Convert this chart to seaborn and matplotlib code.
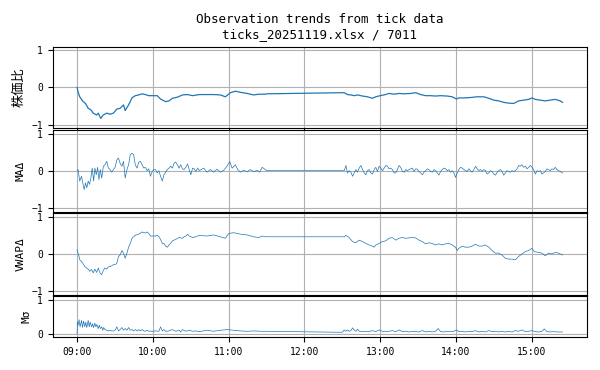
import pandas as pd
import matplotlib
matplotlib.use('Agg')
import matplotlib.pyplot as plt
import matplotlib.dates as mdates
import seaborn as sns

# minutes after 09:00
price_min = [0, 0.8, 2.1, 4.8, 6.7, 8.8, 10.9, 12.8, 15.5, 16.8,
             18.7, 20.8, 23.5, 26.1, 28.8, 31.5, 34.1, 36.8, 38.1, 40.8,
             43.5, 46.1, 48.8, 51.5, 54.1, 56.8, 60, 63.5, 66.1, 70.1,
             72.8, 75.5, 79.5, 83.5, 87.5, 91.5, 96.8, 102.9, 108.2, 113.5,
             117.5, 121.4, 125.4, 129.4, 134.7, 139.9, 143.9, 149.2, 150,
             210, 211.6, 214.2, 216.8, 219.5, 222.1, 226.1, 230, 233.9, 236.6,
             240, 243.2, 247.1, 251.1, 255, 258.9, 264.2, 268.2, 272.1, 276.1,
             280, 283.9, 287.9, 293.2, 297.1, 300.5, 302.4, 306.3, 311.6, 316.8,
             322.1, 326.1, 330, 333.9, 337.9, 341.8, 345.8, 349.7, 353.7, 357.6,
             360.3, 362.9, 366.8, 370.8, 374.7, 378.7, 382.6, 384.5]
price_val = [0, -0.12, -0.25, -0.38, -0.43, -0.56, -0.60, -0.69, -0.74, -0.69,
             -0.83, -0.74, -0.69, -0.72, -0.69, -0.58, -0.56, -0.47, -0.62, -0.47,
             -0.28, -0.22, -0.20, -0.17, -0.19, -0.22, -0.22, -0.22, -0.31, -0.38,
             -0.36, -0.29, -0.26, -0.20, -0.19, -0.22, -0.19, -0.19, -0.19, -0.20,
             -0.25, -0.14, -0.10, -0.13, -0.16, -0.20, -0.18, -0.18, -0.17,
             -0.14, -0.14, -0.19, -0.20, -0.22, -0.20, -0.23, -0.25, -0.29, -0.25,
             -0.22, -0.20, -0.16, -0.18, -0.16, -0.17, -0.16, -0.14, -0.19, -0.22,
             -0.22, -0.23, -0.22, -0.23, -0.25, -0.31, -0.28, -0.28, -0.27, -0.25,
             -0.25, -0.29, -0.34, -0.36, -0.40, -0.42, -0.43, -0.36, -0.34, -0.32,
             -0.28, -0.32, -0.34, -0.36, -0.34, -0.32, -0.36, -0.40]

ma_min = [0.0, 0.8, 2.1, 3.5, 4.8, 5.6, 6.7, 7.7, 8.8, 9.9,
          10.9, 12.0, 13.1, 14.1, 15.2, 16.3, 17.3, 18.4, 19.5, 20.8,
          22.1, 23.5, 24.8, 26.1, 27.5, 28.8, 30.1, 31.5, 32.8, 34.1,
          35.5, 36.8, 38.1, 39.5, 40.8, 42.1, 43.5, 44.8, 46.1, 47.5,
          48.8, 50.1, 51.5, 52.8, 54.1, 55.5, 56.8, 58.1, 59.5, 60.8,
          62.1, 63.5, 64.8, 66.1, 67.5, 68.8, 70.1, 71.5, 72.8, 74.1,
          75.5, 76.8, 78.1, 79.5, 80.8, 82.1, 83.5, 84.8, 86.1, 87.5,
          88.8, 90.1, 91.5, 92.8, 94.1, 95.5, 96.8, 100.3, 102.9, 105.6,
          108.2, 110.8, 113.5, 116.1, 118.8, 120.9, 122.8, 125.4, 127.2, 129.4,
          132.0, 134.7, 137.3, 139.9, 142.6, 144.7, 146.6, 149.2, 150,
          210.0, 211.6, 212.9, 214.2, 215.5, 216.9, 218.2, 219.5, 220.8, 222.1,
          223.4, 224.8, 226.1, 227.4, 228.7, 230.0, 231.3, 232.7, 234.0, 235.3,
          236.6, 237.9, 239.2, 240.6, 241.9, 243.2, 244.5, 245.8, 247.1, 248.4,
          249.8, 251.1, 252.4, 253.7, 255.0, 256.3, 257.7, 259.0, 260.3, 261.6,
          262.9, 264.2, 265.6, 266.9, 268.2, 269.5, 270.8, 272.1, 273.5, 274.8,
          276.1, 277.4, 278.7, 280.0, 281.4, 282.7, 284.0, 285.3, 286.6, 287.9,
          289.2, 290.6, 291.9, 293.2, 294.5, 295.8, 297.1, 298.5, 299.8, 301.1,
          302.4, 303.7, 305.0, 306.4, 307.7, 309.0, 310.3, 311.6, 312.9, 314.3,
          315.6, 316.9, 318.2, 319.5, 320.8, 322.2, 323.5, 324.8, 326.1, 327.4,
          328.7, 330.0, 331.4, 332.7, 334.0, 335.3, 336.6, 337.9, 339.3, 340.6,
          341.9, 343.2, 344.5, 345.8, 347.2, 348.5, 349.8, 351.1, 352.4, 353.7,
          355.1, 356.4, 357.7, 359.0, 360.3, 361.6, 363.0, 364.3, 365.6, 366.9,
          368.2, 369.5, 370.8, 372.2, 373.5, 374.8, 376.1, 377.4, 378.7, 380.1,
          381.4, 382.7, 384.5]
ma_val = [0, 0.03, -0.28, -0.15, -0.37, -0.51, -0.33, -0.46, -0.28, -0.37,
          -0.20, 0.07, -0.28, 0.07, -0.11, 0.09, -0.24, 0.03, -0.20, 0.12,
          0.16, 0.25, 0.07, 0.03, -0.04, 0.03, 0.09, 0.29, 0.34, 0.20,
          0.12, 0.25, -0.20, 0.03, 0.16, 0.43, 0.47, 0.43, 0.16, 0.07,
          0.23, 0.25, 0.16, 0.07, 0.09, 0, 0.05, -0.15, -0.02, 0.03,
          0.03, -0.06, 0, -0.15, -0.28, -0.11, -0.04, 0.03, 0.07, 0.12,
          0.07, 0.20, 0.23, 0.16, 0.07, 0.16, 0.05, 0.03, 0.09, 0.18,
          0.03, -0.11, 0.07, 0.05, -0.02, 0.07, 0, 0.07, -0.04, 0.03,
          -0.04, 0.04, -0.04, 0.01, 0.12, 0.25, 0.07, 0.16, 0.03, -0.04,
          0.01, -0.03, 0.03, -0.03, 0.01, -0.04, 0.09, 0.03, 0,
          0, 0, 0.14, -0.06, 0, -0.04, -0.15, -0.06, 0.03, -0.04,
          0.07, 0.14, 0.03, -0.06, -0.11, 0, 0.03, -0.06, -0.09, 0.03,
          0.09, -0.02, 0.12, 0.07, 0, 0.07, 0.14, 0.12, 0.05, 0.07,
          0.03, -0.06, -0.06, 0.03, 0.14, 0.09, -0.02, -0.04, 0.03, 0,
          0.03, 0.05, 0.07, -0.02, 0.05, 0.04, -0.02, -0.06, -0.11, -0.04,
          0, 0.05, 0.03, -0.02, -0.04, 0.03, 0, -0.06, -0.12, -0.02,
          0.03, 0.07, 0.05, 0, 0.03, -0.04, 0, -0.06, -0.18, -0.06,
          0.03, 0.09, 0.07, 0.03, 0, -0.02, 0.05, 0, -0.04, 0.03,
          0.12, 0.05, 0, 0.03, -0.02, 0.03, 0, -0.09, -0.06, 0,
          -0.02, -0.09, -0.12, -0.04, 0, 0.03, -0.02, -0.12, -0.06, 0,
          -0.02, -0.04, 0, -0.02, 0, 0.05, 0.14, 0.12, 0.16, 0.09,
          0.12, 0.05, 0.09, 0.14, 0.09, 0.03, -0.09, 0, -0.02, 0,
          -0.09, -0.06, -0.02, 0.05, 0.03, 0, 0.05, 0.03, 0.09, 0.03,
          0, -0.02, -0.06]

vwap_min = [0, 0.3, 1.3, 2.1, 3.5, 4.8, 6.1, 7.5, 8.8, 10.1,
            11.5, 12.8, 14.1, 15.5, 16.8, 18.1, 19.5, 20.8, 22.1, 23.5,
            24.8, 26.1, 27.5, 28.8, 30.1, 31.5, 32.8, 34.1, 35.5, 36.8,
            38.1, 39.5, 40.8, 42.1, 43.5, 44.8, 46.1, 48.8, 51.5, 54.1,
            55.5, 56.8, 58.1, 60.0, 62.1, 63.5, 64.8, 66.1, 67.5, 68.8,
            70.1, 71.5, 72.8, 74.1, 75.5, 78.1, 80.8, 83.5, 84.8, 86.1,
            87.5, 88.8, 91.5, 94.1, 96.8, 102.9, 108.2, 113.5, 117.5, 120.1,
            124.1, 129.4, 134.7, 139.9, 143.9, 146.6, 150,
            210.0, 211.6, 212.9, 215.5, 218.2, 220.8, 223.4, 226.1, 228.7, 231.3,
            233.9, 235.3, 236.6, 239.2, 241.8, 244.5, 247.1, 249.7, 252.4, 255.0,
            257.6, 260.3, 262.9, 265.5, 268.2, 270.8, 273.4, 276.1, 278.7, 281.3,
            283.9, 286.6, 289.2, 291.8, 294.5, 297.1, 299.7, 301.1, 302.4, 305.0,
            307.6, 310.3, 312.9, 315.5, 318.2, 320.8, 323.4, 326.1, 328.7, 331.3,
            333.9, 336.6, 339.2, 341.8, 344.5, 347.1, 349.7, 352.4, 355.0, 357.6,
            360.3, 362.1, 365.5, 368.2, 370.8, 373.4, 376.1, 378.7, 381.3, 384.5]
vwap_val = [0.11, 0.06, -0.03, -0.16, -0.20, -0.27, -0.34, -0.38, -0.41, -0.47,
            -0.42, -0.51, -0.41, -0.50, -0.38, -0.51, -0.56, -0.44, -0.38, -0.41,
            -0.35, -0.34, -0.32, -0.29, -0.29, -0.25, -0.07, -0.03, 0.09, 0.02,
            -0.12, 0.02, 0.18, 0.28, 0.42, 0.46, 0.50, 0.53, 0.59, 0.56,
            0.59, 0.55, 0.48, 0.48, 0.48, 0.50, 0.46, 0.39, 0.28, 0.28,
            0.21, 0.18, 0.24, 0.28, 0.35, 0.39, 0.44, 0.42, 0.46, 0.48,
            0.53, 0.48, 0.44, 0.46, 0.50, 0.48, 0.51, 0.46, 0.42, 0.55,
            0.57, 0.53, 0.51, 0.46, 0.44, 0.48, 0.46,
            0.46, 0.46, 0.50, 0.44, 0.33, 0.30, 0.37, 0.33, 0.28, 0.24,
            0.21, 0.18, 0.24, 0.28, 0.33, 0.35, 0.42, 0.44, 0.37, 0.42,
            0.44, 0.42, 0.43, 0.44, 0.43, 0.37, 0.33, 0.27, 0.30, 0.28,
            0.24, 0.27, 0.24, 0.27, 0.28, 0.24, 0.18, 0.09, 0.15, 0.21,
            0.18, 0.18, 0.21, 0.26, 0.21, 0.21, 0.24, 0.18, 0.09, 0.02,
            0.02, -0.03, -0.12, -0.14, -0.14, -0.16, -0.07, 0, 0.06, 0.09,
            0.15, 0.06, 0.04, 0.02, -0.05, 0.02, 0, 0.04, 0.02, -0.03]

msd_min = [0.0, 0.3, 0.8, 1.6, 2.4, 3.5, 4.3, 5.1, 6.1, 6.9,
           7.7, 8.8, 9.6, 10.4, 11.5, 12.3, 13.1, 14.1, 14.9, 15.7,
           16.8, 17.6, 18.4, 19.5, 20.3, 21.1, 22.1, 23.5, 24.8, 26.1,
           27.5, 28.8, 30.1, 31.5, 32.8, 34.1, 35.5, 36.8, 38.1, 39.5,
           40.8, 42.1, 43.5, 44.8, 46.1, 47.5, 48.8, 50.1, 51.5, 52.8,
           54.1, 55.5, 56.8, 58.1, 59.5, 60.8, 62.1, 64.8, 66.1, 67.5,
           68.8, 70.1, 72.8, 75.5, 78.1, 80.8, 82.1, 83.5, 86.1, 88.8,
           91.5, 94.1, 96.8, 102.9, 108.2, 113.5, 118.8, 124.1, 129.4, 134.7,
           139.9, 145.2, 150,
           210.0, 211.6, 212.9, 214.2, 215.5, 216.8, 218.2, 219.5, 220.8, 222.1,
           223.4, 226.1, 228.7, 231.3, 233.9, 236.6, 239.2, 241.8, 244.5, 247.1,
           249.7, 252.4, 255.0, 257.6, 260.3, 262.9, 265.5, 268.2, 270.8, 273.4,
           276.1, 278.7, 281.3, 283.9, 286.1, 287.9, 290.5, 293.2, 295.8, 298.4,
           300.5, 302.4, 305.0, 307.6, 310.3, 312.9, 315.5, 318.2, 320.8, 323.4,
           326.1, 328.7, 331.3, 333.9, 336.6, 339.2, 341.8, 344.5, 347.1, 349.7,
           352.4, 355.0, 357.6, 360.3, 362.9, 365.5, 368.2, 370.0, 372.1, 374.7,
           377.4, 380.0, 384.5]
msd_val = [0.0, 0.34, 0.25, 0.41, 0.20, 0.39, 0.18, 0.37, 0.20, 0.34,
           0.18, 0.39, 0.20, 0.34, 0.20, 0.29, 0.18, 0.31, 0.20, 0.27,
           0.15, 0.25, 0.15, 0.20, 0.10, 0.18, 0.12, 0.10, 0.08, 0.10,
           0.08, 0.08, 0.10, 0.20, 0.08, 0.12, 0.18, 0.10, 0.15, 0.10,
           0.18, 0.10, 0.12, 0.08, 0.12, 0.08, 0.12, 0.08, 0.12, 0.08,
           0.07, 0.10, 0.07, 0.08, 0.06, 0.08, 0.08, 0.07, 0.20, 0.08,
           0.12, 0.07, 0.08, 0.12, 0.07, 0.10, 0.05, 0.12, 0.07, 0.10,
           0.07, 0.08, 0.06, 0.10, 0.07, 0.10, 0.12, 0.10, 0.08, 0.07,
           0.08, 0.07, 0.07,
           0.04, 0.11, 0.07, 0.11, 0.07, 0.09, 0.17, 0.11, 0.07, 0.13,
           0.07, 0.06, 0.07, 0.06, 0.09, 0.06, 0.11, 0.07, 0.06, 0.07,
           0.09, 0.06, 0.11, 0.06, 0.07, 0.05, 0.07, 0.06, 0.05, 0.09,
           0.05, 0.07, 0.05, 0.07, 0.15, 0.06, 0.05, 0.07, 0.06, 0.07,
           0.11, 0.06, 0.07, 0.05, 0.07, 0.06, 0.09, 0.05, 0.07, 0.05,
           0.09, 0.06, 0.07, 0.05, 0.07, 0.05, 0.07, 0.05, 0.09, 0.07,
           0.11, 0.06, 0.07, 0.09, 0.06, 0.05, 0.07, 0.14, 0.06, 0.05,
           0.06, 0.05, 0.05]

panel_labels = ['株価比', 'MAΔ', 'VWAPΔ', 'Mσ']
label_sizes = [9.5, 8, 8, 8]
title = 'Observation trends from tick data\nticks_20251119.xlsx / 7011'
session_day = pd.Timestamp('2025-11-19 09:00')

plt.rcParams['font.family'] = ['DejaVu Sans Mono', 'Noto Sans CJK JP']

fig, axes = plt.subplots(4, 1, figsize=(6, 3.7), dpi=100, sharex=True,
                         gridspec_kw={'height_ratios': [2, 2, 2, 1]})
fig.subplots_adjust(left=0.088, right=0.978, top=0.874, bottom=0.089, hspace=0.02)

series = [(price_min, price_val, 0.9), (ma_min, ma_val, 0.5),
          (vwap_min, vwap_val, 0.5), (msd_min, msd_val, 0.5)]

for ax, label, size, (mins, vals, lw) in zip(axes, panel_labels, label_sizes, series):
    df = pd.DataFrame({'time': session_day + pd.to_timedelta(mins, unit='min'),
                       'value': vals})
    sns.lineplot(data=df, x='time', y='value', ax=ax, color='C0',
                 linewidth=lw, estimator=None)
    ax.set_ylabel(label, fontsize=size)
    ax.set_xlabel('')
    ax.grid(True)
    ax.tick_params(labelsize=7)

for ax in axes[:3]:
    ax.set_ylim(-1.1, 1.1)
    ax.set_yticks([-1, 0, 1])
axes[3].set_ylim(-0.1, 1.1)
axes[3].set_yticks([0, 1])

axes[3].xaxis.set_major_locator(mdates.HourLocator())
axes[3].xaxis.set_major_formatter(mdates.DateFormatter('%H:%M'))
axes[0].set_title(title, fontsize=9)

fig.savefig('out.png', dpi=100)
